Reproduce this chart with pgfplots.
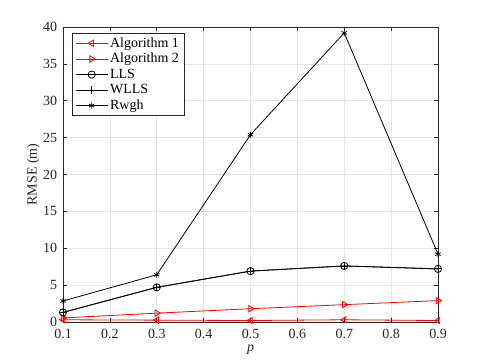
\documentclass[border=0pt]{standalone}
\usepackage{fontspec}
\setmainfont{Liberation Serif}
\usepackage{pgfplots}
\pgfplotsset{compat=1.18}
\definecolor{axgray}{RGB}{38,38,38}

\begin{document}
\begin{tikzpicture}
\fontsize{14}{16}\selectfont
\useasboundingbox (0,0) rectangle (485pt,363pt);
\begin{axis}[
 at={(63pt,41pt)},anchor=south west,
 scale only axis,width=375pt,height=295pt,
 xmin=0.1,xmax=0.9,ymin=0,ymax=40,
 xtick={0.1,0.2,...,0.9},ytick={0,5,...,40},
 xticklabels={0.1,0.2,0.3,0.4,0.5,0.6,0.7,0.8,0.9},
 /pgf/number format/assume math mode=true,
 tick align=inside,major tick length=4pt,
 grid=major,grid style={gray!20,line width=0.6pt},
 axis line style={draw=axgray,line width=0.6pt},
 tick style={draw=axgray,line width=0.6pt},
 ticklabel style={font=\fontsize{14}{16}\selectfont,text=axgray},
 xticklabel style={yshift=-2pt},
 yticklabel style={xshift=-1pt},
 label style={font=\fontsize{14}{16}\selectfont,text=axgray},
 xlabel={\textit{p}},ylabel={RMSE (m)},
 xlabel style={yshift=3pt},ylabel style={yshift=-6pt},
 legend style={at={(9pt,289pt)},anchor=north west,draw=axgray,line width=0.6pt,
   font=\fontsize{14}{16}\selectfont,row sep=0pt,inner xsep=3pt,inner ysep=2pt},
 legend cell align=left,
 legend image code/.code={\draw[mark repeat=2,mark phase=2] plot coordinates {(0pt,0pt) (16pt,0pt) (32pt,0pt)};},
 every axis plot/.append style={line width=0.8pt,mark size=3.6pt},
]
\addplot[red,mark=triangle,mark options={rotate=90,solid}] coordinates {(0.1,0.3) (0.3,0.25) (0.5,0.2) (0.7,0.3) (0.9,0.2)};
\addplot[red,mark=triangle,mark options={rotate=-90,solid}] coordinates {(0.1,0.55) (0.3,1.2) (0.5,1.8) (0.7,2.35) (0.9,2.9)};
\addplot[black,mark=o] coordinates {(0.1,1.3) (0.3,4.7) (0.5,6.9) (0.7,7.6) (0.9,7.2)};
\addplot[black,mark=+] coordinates {(0.1,1.3) (0.3,4.7) (0.5,6.9) (0.7,7.6) (0.9,7.2)};
\addplot[black,mark=asterisk,mark size=3pt] coordinates {(0.1,2.85) (0.3,6.4) (0.5,25.4) (0.7,39.2) (0.9,9.2)};
\legend{Algorithm 1,Algorithm 2,LLS,WLLS,Rwgh}
\end{axis}
\end{tikzpicture}
\end{document}
